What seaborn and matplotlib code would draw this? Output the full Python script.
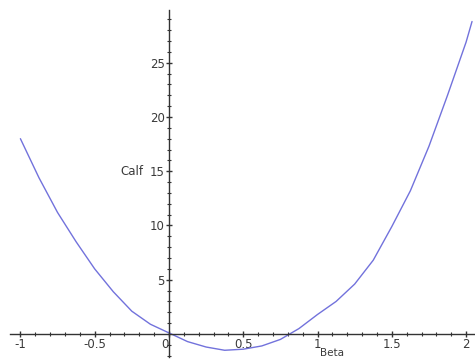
import matplotlib
matplotlib.use("Agg")
import matplotlib.pyplot as plt
from matplotlib.ticker import MultipleLocator, FixedLocator
import seaborn as sns
import pandas as pd

beta = [-1.0, -0.875, -0.75, -0.625, -0.5, -0.375, -0.25, -0.125, 0.0, 0.125,
        0.25, 0.375, 0.5, 0.625, 0.75, 0.875, 1.0, 1.125, 1.25, 1.375, 1.5,
        1.625, 1.75, 1.875, 2.0, 2.04]
calf = [18.0, 14.4, 11.2, 8.5, 6.0, 3.9, 2.1, 0.9, 0.1, -0.7,
        -1.2, -1.5, -1.4, -1.1, -0.5, 0.5, 1.8, 3.0, 4.6, 6.8, 9.9,
        13.2, 17.3, 22.0, 26.9, 28.8]
x_ticks = [-1, -0.5, 0, 0.5, 1, 1.5, 2]
x_tick_labels = ["-1", "-0.5", "0", "0.5", "1", "1.5", "2"]
y_ticks = [5, 10, 15, 20, 25]
y_tick_labels = ["5", "10", "15", "20", "25"]

df = pd.DataFrame({"Beta": beta, "Calf": calf})

sns.set_style("white")
plt.rcParams["font.family"] = ["DejaVu Sans"]

fig = plt.figure(figsize=(4.75, 3.59), dpi=100)
ax = fig.add_axes([10 / 475, 2 / 359, 465 / 475, 347 / 359])

sns.lineplot(data=df, x="Beta", y="Calf", ax=ax, color="#7272dc",
             linewidth=1.0, sort=False)

ax.set_xlim(-1.07, 2.06)
ax.set_ylim(-2.12, 29.86)

for s in ["top", "right"]:
    ax.spines[s].set_visible(False)
ax.spines["left"].set_position(("data", 0))
ax.spines["bottom"].set_position(("data", 0))
for s in ["left", "bottom"]:
    ax.spines[s].set_color("#333333")
    ax.spines[s].set_linewidth(1.0)

ax.xaxis.set_major_locator(FixedLocator(x_ticks))
ax.set_xticklabels(x_tick_labels)
ax.xaxis.set_minor_locator(MultipleLocator(0.1))
ax.yaxis.set_major_locator(FixedLocator(y_ticks))
ax.set_yticklabels(y_tick_labels)
ax.yaxis.set_minor_locator(MultipleLocator(1))

ax.tick_params(axis="both", which="major", direction="inout", length=5,
               width=1.0, color="#333333", labelsize=8.5, labelcolor="#3a3a3a",
               pad=0.5)
ax.tick_params(axis="both", which="minor", direction="inout", length=3.5,
               width=0.8, color="#333333")
ax.tick_params(axis="x", bottom=True, which="both")
ax.tick_params(axis="y", left=True, which="both")
ax.get_xticklabels()[2].set_horizontalalignment("right")

ax.set_xlabel("")
ax.set_ylabel("")
ax.text(-0.33, 15, "Calf", ha="left", va="center", fontsize=8.5,
        color="#3a3a3a")
ax.text(1.1, -2.2, "Beta", ha="center", va="bottom", fontsize=7.5,
        color="#3a3a3a")

ax.set_facecolor("white")
fig.patch.set_facecolor("white")
fig.savefig("out.png", dpi=100)
